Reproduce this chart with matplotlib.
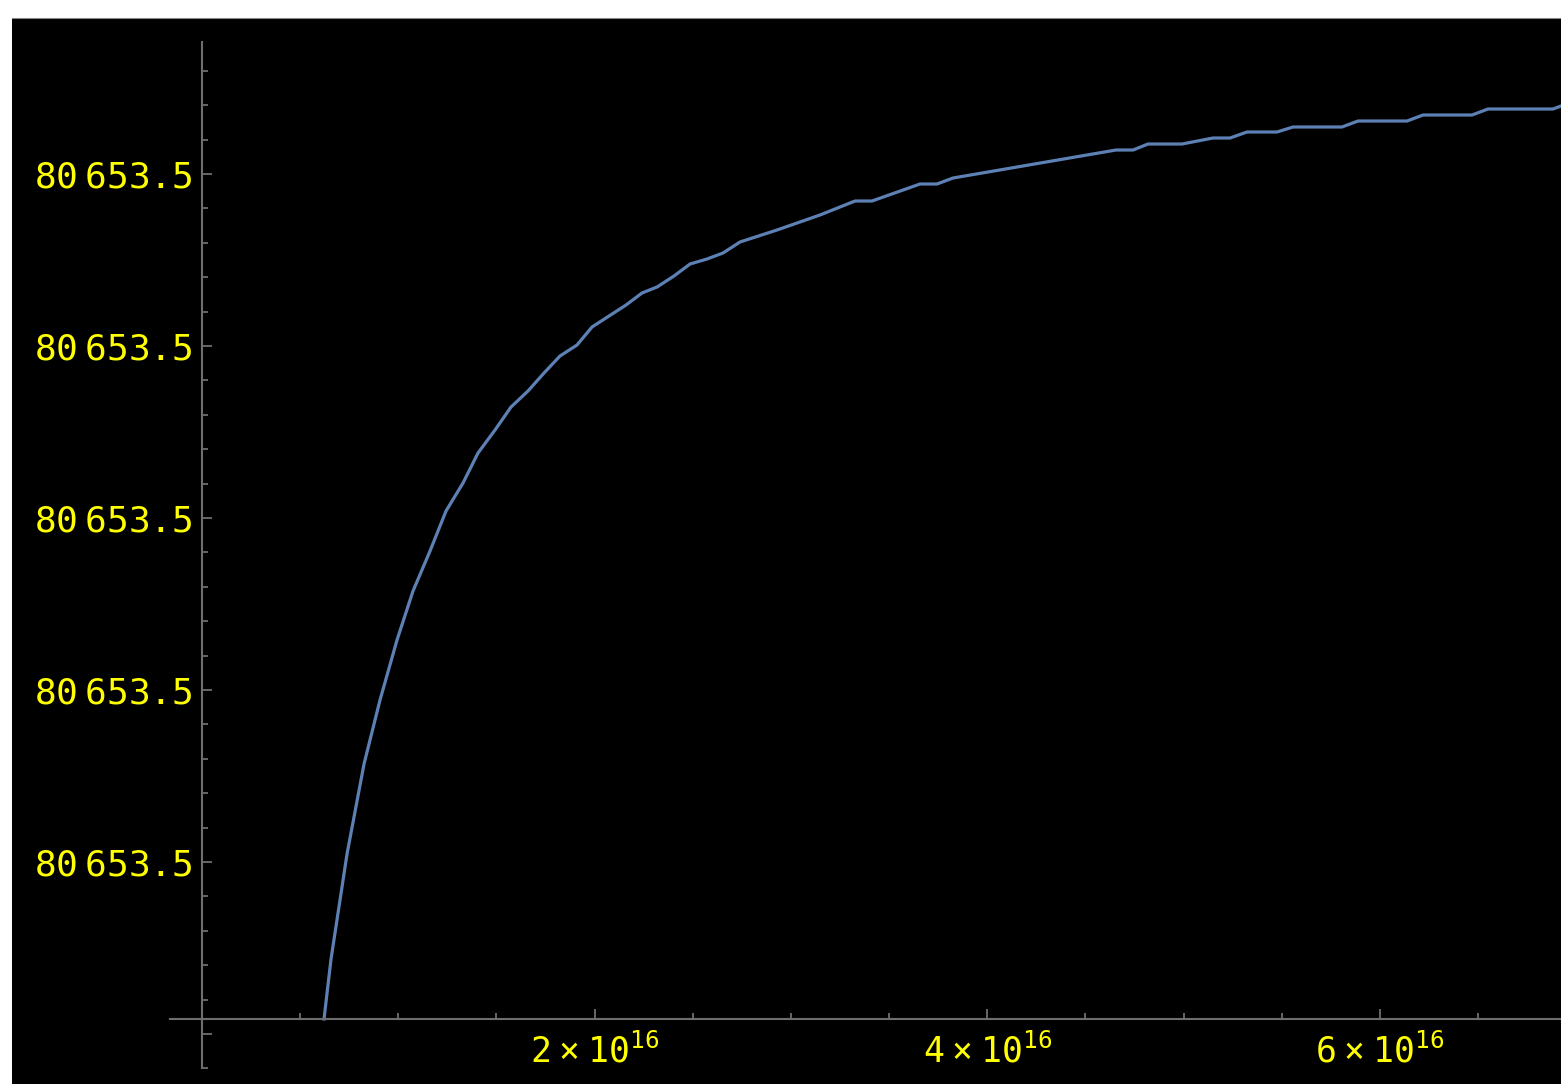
import matplotlib
matplotlib.use("Agg")
import matplotlib.pyplot as plt
from matplotlib.ticker import FixedLocator, FixedFormatter
import numpy as np

# x in units of 1e16, y as offset from the base value in tick steps
x_vals = [0.6215, 0.6572, 0.7387, 0.8253, 0.9068, 0.9934, 1.0749, 1.1615,
          1.2430, 1.3296, 1.4060, 1.4926, 1.5741, 1.6607, 1.7422, 1.8237,
          1.9103, 1.9868, 2.0733, 2.1600, 2.2415, 2.3179, 2.4045, 2.4860,
          2.5726, 2.6541, 2.7407, 2.9292, 3.1482, 3.3265, 3.4131, 3.6577,
          3.7443, 3.8258, 4.6561, 4.7427, 4.8191, 4.9924, 5.1503, 5.2369,
          5.3235, 5.4763, 5.5578, 5.8074, 5.8889, 6.1386, 6.2201, 6.4697,
          6.5512, 6.8823, 6.9231]
y_vals = [0.0872, 0.4360, 1.0465, 1.5698, 1.9419, 2.2907, 2.5756, 2.8081,
          3.0407, 3.2035, 3.3779, 3.5116, 3.6453, 3.7384, 3.8430, 3.9419,
          4.0058, 4.1105, 4.1744, 4.2384, 4.3081, 4.3430, 4.4070, 4.4767,
          4.5058, 4.5407, 4.6047, 4.6744, 4.7616, 4.8430, 4.8430, 4.9419,
          4.9419, 4.9767, 5.1395, 5.1395, 5.1744, 5.1744, 5.2093, 5.2093,
          5.2442, 5.2442, 5.2733, 5.2733, 5.3081, 5.3081, 5.3430, 5.3430,
          5.3779, 5.3779, 5.3953]

y_major = [0, 1, 2, 3, 4, 5]
y_labels = [""] + [r"$80\ 653.5$"] * 5
x_major = [2, 4, 6]
x_labels = [r"$2\,\times\,10^{16}$", r"$4\,\times\,10^{16}$", r"$6\,\times\,10^{16}$"]

plt.rcParams['mathtext.fontset'] = 'custom'
plt.rcParams['mathtext.rm'] = 'DejaVu Sans Mono'
plt.rcParams['mathtext.it'] = 'DejaVu Sans Mono'

W, H = 1561, 1084
fig = plt.figure(figsize=(W / 100, H / 100), dpi=100, facecolor='white')
ax = fig.add_axes([12 / W, 0, (W - 12) / W, (H - 18) / H])
ax.set_facecolor('black')

axis_col = '#6e6e6e'
label_col = '#ffff00'

ax.plot(x_vals, y_vals, color='#5e81b5', lw=2.3, solid_joinstyle='miter')

ax.set_xlim(-0.968, 6.923)
ax.set_ylim(-0.2907, 5.907)

# thin grey edge along the top of the black panel
ax.spines['top'].set_color('#888888')
ax.spines['top'].set_linewidth(0.8)
ax.spines['right'].set_visible(False)
ax.spines['left'].set_position(('data', 0))
ax.spines['left'].set_bounds(-0.198, 5.767)
ax.spines['bottom'].set_position(('data', 0.0872))
ax.spines['bottom'].set_bounds(-0.163, 7.0)
for s in ['left', 'bottom']:
    ax.spines[s].set_color(axis_col)
    ax.spines[s].set_linewidth(1.5)

ax.yaxis.set_major_locator(FixedLocator(y_major))
ax.yaxis.set_major_formatter(FixedFormatter(y_labels))
ax.yaxis.set_minor_locator(FixedLocator(
    [v for v in np.round(np.arange(-0.2, 5.61, 0.2), 2) if v not in y_major]))
ax.xaxis.set_major_locator(FixedLocator(x_major))
ax.xaxis.set_major_formatter(FixedFormatter(x_labels))
ax.xaxis.set_minor_locator(FixedLocator(
    [v for v in np.arange(0.5, 6.6, 0.5) if v not in x_major]))

ax.tick_params(axis='both', which='both', direction='in', color=axis_col,
               width=1.3, labelcolor=label_col, top=False, right=False)
ax.tick_params(axis='both', which='major', length=7.2)
ax.tick_params(axis='both', which='minor', length=4.3)
ax.tick_params(axis='y', which='major', pad=6.5)
ax.tick_params(axis='x', which='major', pad=10.5)
for lab in ax.get_yticklabels():
    lab.set_fontsize(26)
for lab in ax.get_xticklabels():
    lab.set_fontsize(25)

fig.savefig('out.png', dpi=100, facecolor='white')
